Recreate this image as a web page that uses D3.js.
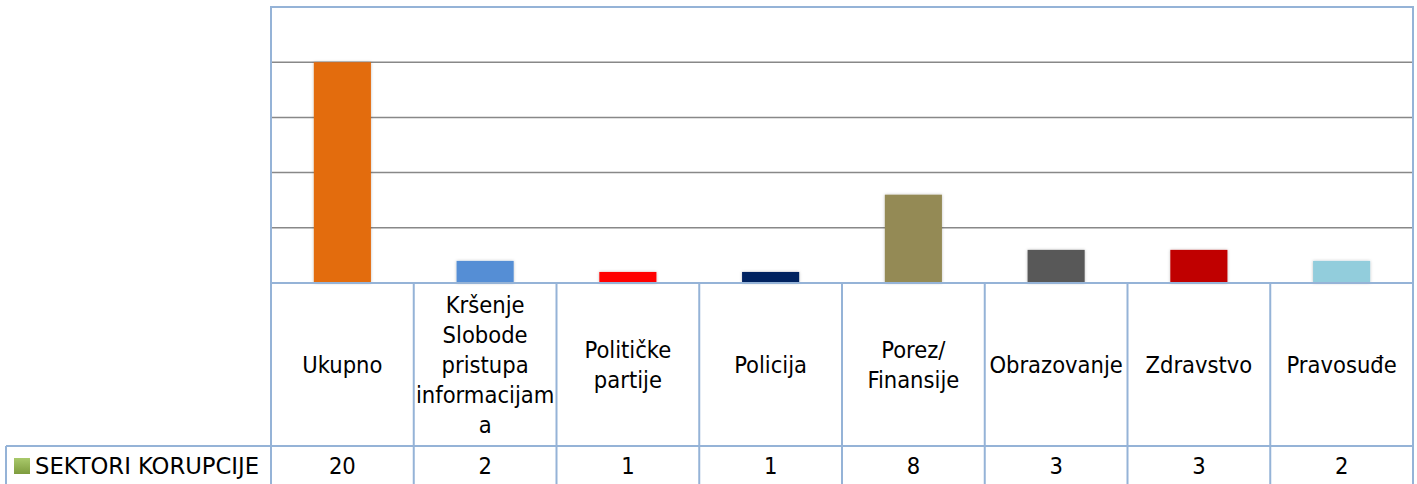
<!DOCTYPE html>
<html>
<head>
<meta charset="utf-8">
<script src="https://cdn.jsdelivr.net/npm/d3@7"></script>
<style>
  body { margin: 0; background: #fff; }
  text { font-family: "DejaVu Sans Condensed", "DejaVu Sans", sans-serif; fill: #000; }
</style>
</head>
<body>
<svg id="chart" width="1417" height="484"></svg>
<script>
const categories = ['Ukupno', 'Kršenje Slobode pristupa informacijama', 'Političke partije', 'Policija', 'Porez/ Finansije', 'Obrazovanje', 'Zdravstvo', 'Pravosuđe'];
const values = [20, 2, 1, 1, 8, 3, 3, 2];
const barColors = ['#E36C09', '#558ED5', '#FF0000', '#002060', '#948A54', '#595959', '#C00000', '#92CDDC'];
const seriesName = 'SEKTORI KORUPCIJE';
const yTicks = [5, 10, 15, 20, 25];

const svg = d3.select('#chart');
const plotLeft = 271, plotRight = 1413, plotTop = 7, base = 283;
const headerBottom = 446, rowBottom = 500, legendLeft = 6;
const lineColor = '#95B3D7';

const x = d3.scaleBand().domain(categories).range([plotLeft, plotRight]).paddingInner(0).paddingOuter(0);
const y = d3.scaleLinear().domain([0, 25]).range([base, plotTop]);

// soft shadow for the bars
const defs = svg.append('defs');
const f = defs.append('filter').attr('id', 'shadow').attr('x', '-20%').attr('y', '-20%').attr('width', '140%').attr('height', '140%');
f.append('feDropShadow').attr('dx', 0).attr('dy', 0).attr('stdDeviation', 1.5).attr('flood-color', '#000').attr('flood-opacity', 0.25);

const grad = defs.append('linearGradient').attr('id', 'legendGrad').attr('x1', 0).attr('y1', 0).attr('x2', 0).attr('y2', 1);
grad.append('stop').attr('offset', '0%').attr('stop-color', '#A9C96B');
grad.append('stop').attr('offset', '100%').attr('stop-color', '#7E9C3E');

// gridlines
svg.append('g')
  .selectAll('line')
  .data(yTicks.filter(d => d < 25))
  .join('line')
  .attr('x1', plotLeft).attr('x2', plotRight)
  .attr('y1', d => y(d)).attr('y2', d => y(d))
  .attr('stroke', '#888').attr('stroke-width', 1.5);

// plot border (top, left, right)
svg.append('path')
  .attr('d', `M${plotLeft},${base}V${y(25)}H${plotRight}V${base}`)
  .attr('fill', 'none').attr('stroke', lineColor).attr('stroke-width', 2);

// bars
const barW = x.bandwidth() * 0.4;
svg.append('g')
  .selectAll('rect')
  .data(values)
  .join('rect')
  .attr('x', (d, i) => x(categories[i]) + (x.bandwidth() - barW) / 2)
  .attr('width', barW)
  .attr('y', d => y(d))
  .attr('height', d => base - y(d))
  .attr('fill', (d, i) => barColors[i])
  .attr('filter', 'url(#shadow)');

// data table lines
const t = svg.append('g').attr('stroke', lineColor).attr('stroke-width', 2).attr('fill', 'none');
t.append('line').attr('x1', plotLeft).attr('x2', plotRight).attr('y1', base).attr('y2', base);
t.append('line').attr('x1', legendLeft).attr('x2', plotRight).attr('y1', headerBottom).attr('y2', headerBottom);
t.append('line').attr('x1', legendLeft).attr('x2', legendLeft).attr('y1', headerBottom).attr('y2', rowBottom);
const edges = categories.map(c => x(c)).concat([plotRight]);
t.selectAll('line.v').data(edges).join('line').attr('class', 'v')
  .attr('x1', d => d).attr('x2', d => d).attr('y1', base).attr('y2', rowBottom);

// header labels with wrapping
const fontSize = 23.5, lineH = 30, maxW = x.bandwidth() - 1;
function wrapLines(label, textEl) {
  const words = label.split(' ');
  const lines = [];
  const measure = s => { textEl.text(s); return textEl.node().getComputedTextLength(); };
  let cur = '';
  words.forEach(w => {
    const trial = cur ? cur + ' ' + w : w;
    if (measure(trial) <= maxW) { cur = trial; return; }
    if (cur) lines.push(cur);
    cur = w;
    while (measure(cur) > maxW) {
      let k = cur.length - 1;
      while (k > 1 && measure(cur.slice(0, k)) > maxW) k--;
      lines.push(cur.slice(0, k));
      cur = cur.slice(k);
    }
  });
  if (cur) lines.push(cur);
  textEl.text('');
  return lines;
}

const headerMid = (base + headerBottom) / 2;
categories.forEach(c => {
  const tx = svg.append('text')
    .attr('text-anchor', 'middle')
    .attr('font-size', fontSize);
  const lines = wrapLines(c, tx);
  const cx = x(c) + x.bandwidth() / 2;
  const y0 = headerMid - (lines.length - 1) * lineH / 2;
  lines.forEach((l, i) => {
    tx.append('tspan').attr('x', cx).attr('y', y0 + i * lineH).attr('dy', '0.35em').text(l);
  });
});

// data row
const rowMid = 466;
svg.append('g')
  .selectAll('text')
  .data(values)
  .join('text')
  .attr('x', (d, i) => x(categories[i]) + x.bandwidth() / 2)
  .attr('y', rowMid).attr('dy', '0.35em')
  .attr('text-anchor', 'middle')
  .attr('font-size', fontSize)
  .text(d => d);

// legend key
svg.append('rect').attr('x', 14).attr('y', 458).attr('width', 16).attr('height', 16).attr('fill', 'url(#legendGrad)');
svg.append('text').attr('x', 35).attr('y', rowMid).attr('dy', '0.35em').attr('font-size', fontSize)
  .attr('textLength', 224).attr('lengthAdjust', 'spacingAndGlyphs').text(seriesName);
</script>
</body>
</html>
